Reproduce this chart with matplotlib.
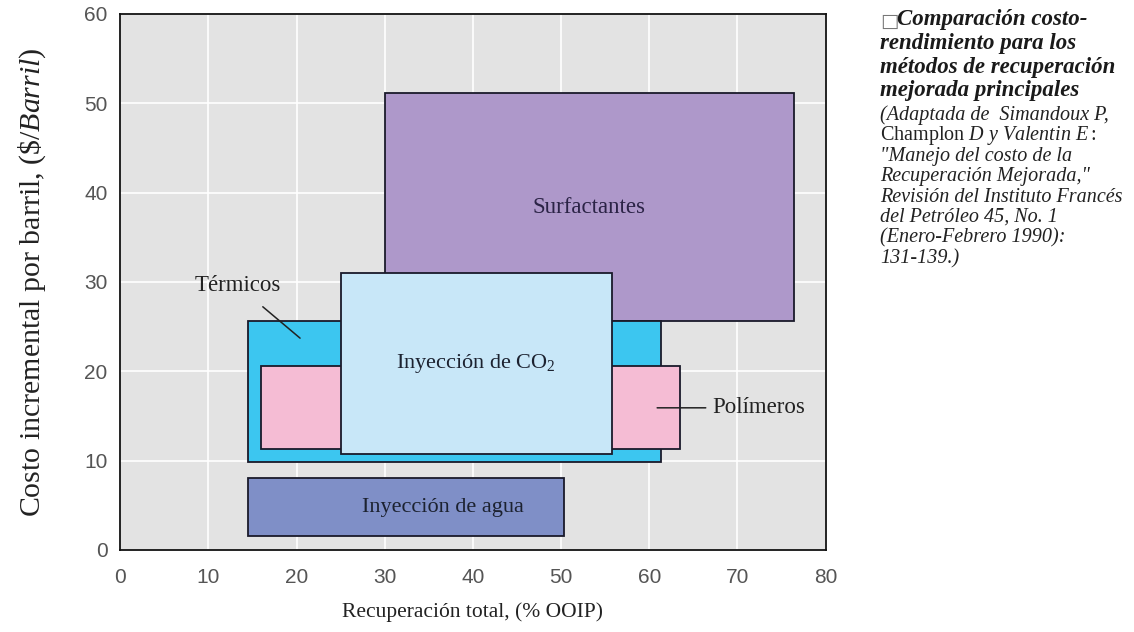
import matplotlib
matplotlib.use("Agg")
from matplotlib import pyplot as plt
from matplotlib.patches import Rectangle

plt.rcParams['mathtext.fontset'] = 'custom'
plt.rcParams['mathtext.rm'] = 'Liberation Serif'
plt.rcParams['mathtext.it'] = 'Liberation Serif:italic'
plt.rcParams['mathtext.bf'] = 'Liberation Serif:bold'

# rangos de cada metodo: recuperacion (% OOIP) y costo ($/barril)
metodos = ['Surfactantes', 'Térmicos', 'Polímeros', 'Inyección de CO$_2$', 'Inyección de agua']
rec_min = [30.0, 14.5, 16.0, 25.0, 14.5]
rec_max = [76.4, 61.3, 63.5, 55.8, 50.3]
costo_min = [25.6, 9.8, 11.3, 10.7, 1.6]
costo_max = [51.1, 25.6, 20.6, 31.0, 8.0]
colores = ['#ae98ca', '#3cc6f0', '#f5bcd4', '#c8e7f8', '#7f8fc7']

x_ticks = [0, 10, 20, 30, 40, 50, 60, 70, 80]
y_ticks = [0, 10, 20, 30, 40, 50, 60]

fig = plt.figure(figsize=(11.34, 6.32), dpi=100)
ax = fig.add_axes([0.106, 0.13, 0.622, 0.848])
ax.set_facecolor('#e3e3e3')
ax.set_xlim(0, 80)
ax.set_ylim(0, 60)
ax.set_xticks(x_ticks)
ax.set_yticks(y_ticks)
ax.grid(color='white', linewidth=1.2)
ax.set_axisbelow(True)
for s in ax.spines.values():
    s.set_linewidth(1.3)
    s.set_color('#111111')
ax.tick_params(length=0, labelsize=15, labelcolor='#555555')
ax.tick_params(axis='x', pad=13)
ax.tick_params(axis='y', pad=9)
for lab in ax.get_xticklabels() + ax.get_yticklabels():
    lab.set_family('Liberation Sans')

for i in range(len(metodos)):
    ax.add_patch(Rectangle((rec_min[i], costo_min[i]), rec_max[i] - rec_min[i],
                           costo_max[i] - costo_min[i], facecolor=colores[i],
                           edgecolor='#1a1a2a', linewidth=1.3, zorder=2 + i))

serif = ['Liberation Serif', 'DejaVu Serif']
ax.text(53.2, 38.3, metodos[0], family=serif, fontsize=16.5, color='#2b2346',
        ha='center', va='center', zorder=10)
ax.text(40.3, 20.9, metodos[3], family=serif, fontsize=16, color='#1c2230',
        ha='center', va='center', zorder=10)
ax.text(36.6, 4.7, metodos[4], family=serif, fontsize=16, color='#1c2230',
        ha='center', va='center', zorder=10)
ax.annotate(metodos[1], xy=(20.4, 23.7), xytext=(13.3, 29.6), family=serif,
            fontsize=16.5, color='#222222', ha='center', va='center', zorder=10,
            arrowprops=dict(arrowstyle='-', color='#222222', lw=1.1,
                            shrinkA=9, shrinkB=0))
ax.annotate(metodos[2], xy=(60.9, 15.9), xytext=(67.2, 15.9), family=serif,
            fontsize=16.5, color='#222222', ha='left', va='center', zorder=10,
            arrowprops=dict(arrowstyle='-', color='#222222', lw=1.1,
                            shrinkA=3, shrinkB=0))

ax.set_xlabel('Recuperación total, (% OOIP)', family=serif, fontsize=15.5,
              color='#222222')
ax.set_ylabel('Costo incremental por barril, (\\$/$\\mathit{Barril}$)', family=serif,
              fontsize=21.5, color='#222222')
ax.xaxis.set_label_coords(0.5, -0.097)
ax.yaxis.set_label_coords(-0.102, 0.5)

# texto de la figura a la derecha
titulo = ['Comparación costo-', 'rendimiento para los',
          'métodos de recuperación', 'mejorada principales']
fig.text(0.776, 1 - 21 / 632, '\u25a1', family=['DejaVu Sans'], fontsize=14,
         color='#777777', va='center')
for k, linea in enumerate(titulo):
    x0 = 0.791 if k == 0 else 0.776
    fig.text(x0, 1 - (20 + 23.5 * k) / 632, linea, family=serif, style='italic',
             weight='bold', fontsize=16.5, color='#1a1a1a', va='center')

nota = ['(Adaptada de  Simandoux P,',
        'Champlon $\\mathit{D\\ y\\ Valentin\\ E:}$',
        '"Manejo del costo de la',
        'Recuperación Mejorada,"',
        'Revisión del Instituto Francés',
        'del Petróleo 45, No. 1',
        '(Enero-Febrero 1990):',
        '131-139.)']
for k, linea in enumerate(nota):
    fig.text(0.776, 1 - (115 + 20.5 * k) / 632, linea, family=serif,
             style='normal' if k == 1 else 'italic', fontsize=14.5,
             color='#222222', va='center')

fig.savefig('out.png', dpi=100)
